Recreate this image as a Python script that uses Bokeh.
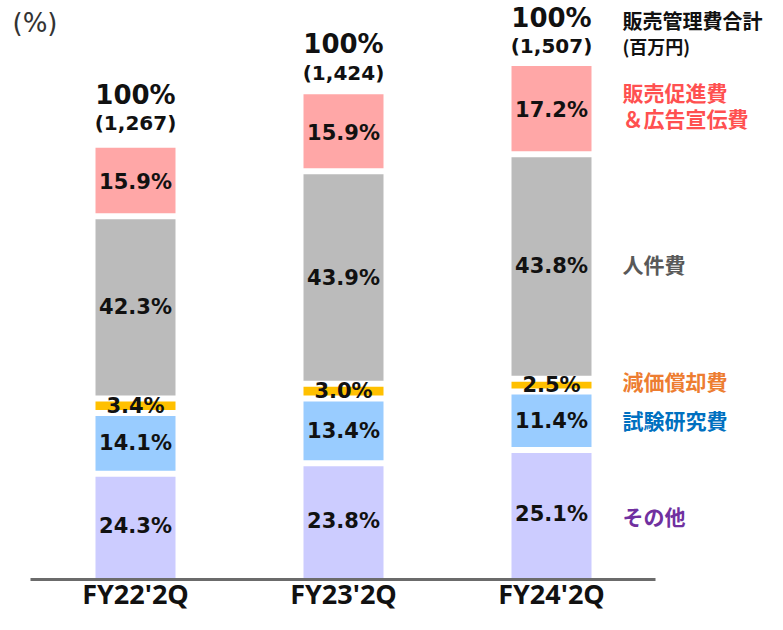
from bokeh.plotting import figure
from bokeh.models import Range1d
from bokeh.core.properties import value
from bokeh.embed import file_html
from bokeh.resources import INLINE

# ---------------- data ----------------
periods = ["FY22'2Q", "FY23'2Q", "FY24'2Q"]
totals = [1267, 1424, 1507]          # 百万円
total_labels = ["(1,267)", "(1,424)", "(1,507)"]
other = [24.3, 23.8, 25.1]           # その他
rnd = [14.1, 13.4, 11.4]             # 試験研究費
depr = [3.4, 3.0, 2.5]               # 減価償却費
personnel = [42.3, 43.9, 43.8]       # 人件費
promo = [15.9, 15.9, 17.2]           # 販売促進費＆広告宣伝費
series_names = ["その他", "試験研究費", "減価償却費", "人件費", "販売促進費"]
# --------------------------------------

series = [other, rnd, depr, personnel, promo]
fills = ["#CCCCFF", "#99CCFF", "#FFC000", "#BBBBBB", "#FFA7A7"]
label_colors = ["#7030A0", "#0070C0", "#ED7D31", "#595959", "#FF5050"]

PX = 0.34                 # px per 百万円
GAP = 6 / PX              # white gap between segments, in data units
W, H = 767, 614
x0px, step = 135, 208     # first bar centre, spacing (px)
base_px = 578             # baseline, px from top

p = figure(width=W, height=H, output_backend="svg", toolbar_location=None,
           x_range=Range1d(-x0px / step, (W - x0px) / step),
           y_range=Range1d(-(H - base_px) / PX, base_px / PX),
           min_border=0, outline_line_color=None)
p.axis.visible = False
p.grid.visible = False
p.background_fill_color = "white"
p.border_fill_color = "white"

l, r, b, t, c = [], [], [], [], []
lx, ly, lt = [], [], []
bw = 80 / step
for i, tot in enumerate(totals):
    cum = 0.0
    for j, s in enumerate(series):
        v0 = cum * tot / 100
        v1 = (cum + s[i]) * tot / 100
        cum += s[i]
        l.append(i - bw / 2); r.append(i + bw / 2)
        b.append(v0 + (GAP / 2 if j > 0 else 0))
        t.append(v1 - (GAP / 2 if j < len(series) - 1 else 0))
        c.append(fills[j])
        lx.append(i); ly.append((v0 + v1) / 2); lt.append(f"{s[i]:.1f}%")

p.quad(left=l, right=r, bottom=b, top=t, fill_color=c, line_color=None)

p.text(x=lx, y=ly, text=lt, text_align="center", text_baseline="middle",
       text_font=value("DejaVu Sans"), text_font_style="bold",
       text_font_size="21px", text_color="#111111")

# totals above bars
xs = list(range(len(totals)))
p.text(x=xs, y=totals, text=["100%"] * len(totals), y_offset=[-53, -50, -48],
       text_align="center", text_baseline="middle",
       text_font=value("DejaVu Sans"), text_font_style="bold",
       text_font_size="26px", text_color="#111111")
p.text(x=xs, y=totals, text=total_labels, y_offset=[-25, -21, -20],
       text_align="center", text_baseline="middle",
       text_font=value("DejaVu Sans"), text_font_style="bold",
       text_font_size="20px", text_color="#111111")

# baseline
p.segment(x0=[(30 - x0px) / step], x1=[(655 - x0px) / step], y0=[-3], y1=[-3],
          line_color="#6B6B6B", line_width=3)

# category labels
p.text(x=xs, y=[-(593 - base_px) / PX] * 3, text=periods,
       text_align="center", text_baseline="middle",
       text_font=value("Open Sans"), text_font_style="bold",
       text_font_size="27px", text_color="#111111")

# (%)
p.text(x=[(12 - x0px) / step], y=[(base_px - 22) / PX], text=["(%)"],
       text_align="left", text_baseline="middle",
       text_font=value("DejaVu Sans"), text_font_size="26px", text_color="#333333")

# right-side legend derived from last bar's segments
lx_leg = (622 - x0px) / step
last = len(totals) - 1
mids = []
cum = 0.0
for s in series:
    mids.append((cum + s[last] / 2) * totals[last] / 100)
    cum += s[last]
offs = [2, -1, -4, -2]
jp = value("Noto Sans CJK JP")
for j in range(4):
    p.text(x=[lx_leg], y=[mids[j]], y_offset=offs[j], text=[series_names[j]],
           text_align="left", text_baseline="middle", text_font=jp,
           text_font_style="bold", text_font_size="21px", text_color=label_colors[j])
p.text(x=[lx_leg], y=[mids[4]], y_offset=-18, text=["販売促進費"],
       text_align="left", text_baseline="middle", text_font=jp,
       text_font_style="bold", text_font_size="21px", text_color=label_colors[4])
p.text(x=[lx_leg], y=[mids[4]], y_offset=8, text=["＆広告宣伝費"],
       text_align="left", text_baseline="middle", text_font=jp,
       text_font_style="bold", text_font_size="21px", text_color=label_colors[4])

# total legend
p.text(x=[lx_leg], y=[totals[last]], y_offset=-46, text=["販売管理費合計"],
       text_align="left", text_baseline="middle", text_font=jp,
       text_font_style="bold", text_font_size="20px", text_color="#111111")
p.text(x=[lx_leg], y=[totals[last]], y_offset=-20, text=["(百万円)"],
       text_align="left", text_baseline="middle", text_font=jp,
       text_font_style="bold", text_font_size="18px", text_color="#111111")

open("out.html", "w").write(file_html(p, INLINE))
